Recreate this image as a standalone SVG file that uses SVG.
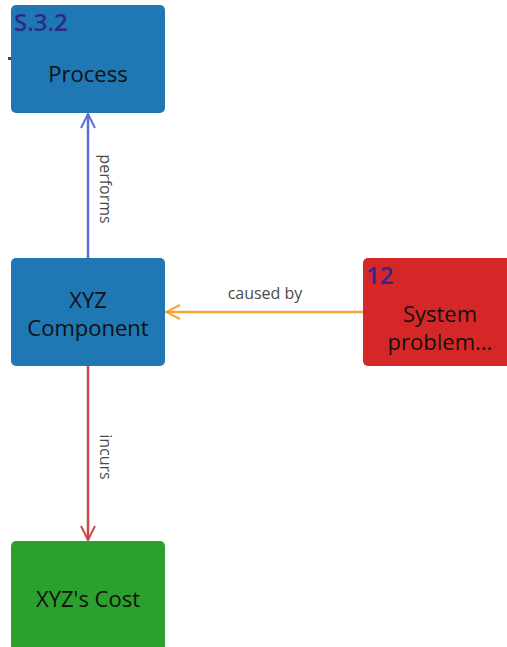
<svg xmlns="http://www.w3.org/2000/svg" width="507" height="647" viewBox="0 0 507 647">
  <defs>
    <style>
      .node { stroke: none; }
      .blue { fill: #1f77b4; }
      .red { fill: #d62728; }
      .green { fill: #2ca02c; }
      .label { font-family: "Open Sans", "Noto Sans", sans-serif; font-size: 22px; fill: #111; text-anchor: middle; }
      .num { font-family: "Open Sans", "Noto Sans", sans-serif; font-size: 24px; font-weight: 600; fill: #2e2a8c; }
      .elabel { font-family: "Open Sans", "Noto Sans", sans-serif; font-size: 16px; fill: #4a4a4a; text-anchor: middle; }
      .edge { fill: none; stroke-width: 2.5; }
    </style>
    <marker id="arrowBlue" viewBox="0 0 16 16" refX="15" refY="8" markerWidth="16" markerHeight="16" markerUnits="userSpaceOnUse" orient="auto">
      <path d="M1,1 L15,8 L1,15" fill="none" stroke="#5a70d8" stroke-width="2"/>
    </marker>
    <marker id="arrowRed" viewBox="0 0 16 16" refX="15" refY="8" markerWidth="16" markerHeight="16" markerUnits="userSpaceOnUse" orient="auto">
      <path d="M1,1 L15,8 L1,15" fill="none" stroke="#c8484c" stroke-width="2"/>
    </marker>
    <marker id="arrowOrange" viewBox="0 0 16 16" refX="15" refY="8" markerWidth="16" markerHeight="16" markerUnits="userSpaceOnUse" orient="auto">
      <path d="M1,1 L15,8 L1,15" fill="none" stroke="#f2a33a" stroke-width="2"/>
    </marker>
  </defs>

  <rect width="507" height="647" fill="#ffffff"/>

  <g id="connectors">
    <line class="edge" x1="88" y1="258" x2="88" y2="114" stroke="#5a70d8" marker-end="url(#arrowBlue)"/>
    <text class="elabel" transform="translate(100,189) rotate(90)">performs</text>
    <line class="edge" x1="88" y1="366" x2="88" y2="540" stroke="#c8484c" marker-end="url(#arrowRed)"/>
    <text class="elabel" transform="translate(100,457) rotate(90)">incurs</text>
    <line class="edge" x1="363" y1="312" x2="166" y2="312" stroke="#f2a33a" marker-end="url(#arrowOrange)"/>
    <text class="elabel" x="265" y="299">caused by</text>
  </g>

  <g id="node-process">
    <rect x="8" y="57" width="3" height="3" fill="#2a4a6a"/>
    <rect class="node blue" x="11" y="5" width="154" height="108" rx="5"/>
    <text class="num" x="14" y="31">S.3.2</text>
    <text class="label" x="88" y="82">Process</text>
  </g>

  <g id="node-component">
    <rect class="node blue" x="11" y="258" width="154" height="108" rx="5"/>
    <text class="label" x="88" y="308">XYZ</text>
    <text class="label" x="88" y="336">Component</text>
  </g>

  <g id="node-problem">
    <rect class="node red" x="363" y="258" width="150" height="108" rx="5"/>
    <text class="num" x="366" y="284">12</text>
    <text class="label" x="440" y="322">System</text>
    <text class="label" x="440" y="350">problem...</text>
  </g>

  <g id="node-cost">
    <rect class="node green" x="11" y="541" width="154" height="112" rx="5"/>
    <text class="label" x="88" y="607">XYZ's Cost</text>
  </g>
</svg>
